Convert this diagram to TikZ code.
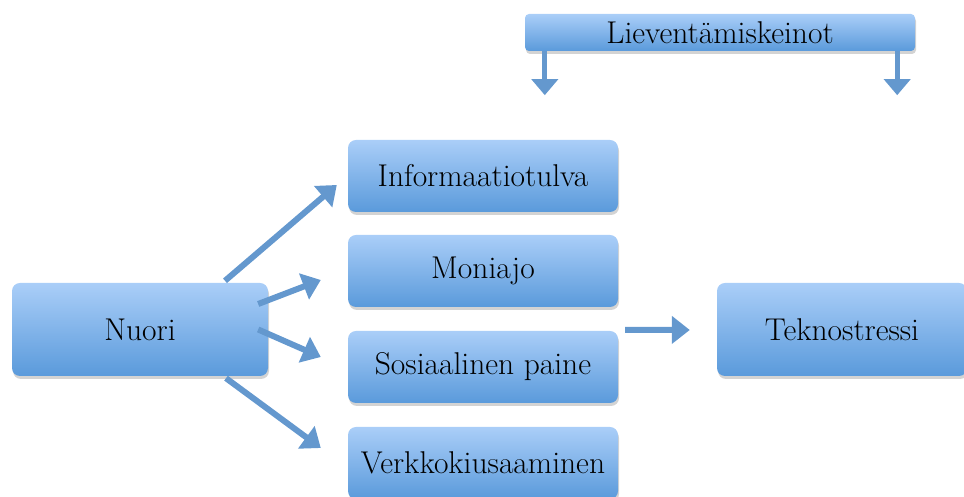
\documentclass[tikz,border=0pt]{standalone}
\usepackage{fontspec}
\usepackage{tikz}
\usetikzlibrary{arrows.meta, positioning, shadows}
\definecolor{boxtop}{HTML}{AACEF8}
\definecolor{boxbottom}{HTML}{5A9ADB}
\definecolor{arrowblue}{HTML}{6498CE}

\begin{document}
\begin{tikzpicture}[x=1pt, y=1pt,
    box/.style={rounded corners=8pt, top color=boxtop, bottom color=boxbottom,
                draw=none, minimum width=#1, inner sep=0pt,
                drop shadow={shadow xshift=1pt, shadow yshift=-3pt, opacity=0.35},
                font=\fontsize{31.5}{36}\selectfont},
    box/.default=270pt,
    arr/.style={-{Triangle[width=27pt, length=18pt]}, line width=6pt, arrowblue},
    smallarr/.style={-{Triangle[width=26pt, length=16pt]}, line width=5pt, arrowblue},
]
    \useasboundingbox (0,0) rectangle (964,497);

    \node[box=256pt, minimum height=93pt] (nuori) at (140,167.5) {Nuori};
    \node[box, minimum height=72pt] (info) at (483,321) {Informaatiotulva};
    \node[box, minimum height=72pt] (moni) at (483,226) {Moniajo};
    \node[box, minimum height=72pt] (sos) at (483,130) {Sosiaalinen paine};
    \node[box, minimum height=72pt] (verkko) at (483,34) {Verkkokiusaaminen};
    \node[box=250pt, minimum height=93pt] (tekno) at (842,167.5) {Teknostressi};
    \node[box=390pt, minimum height=37pt, rounded corners=4pt] (lieve) at (720,464.5) {Lieventämiskeinot};

    \coordinate (lend) at ([xshift=20pt, yshift=-44pt]lieve.south west);
    \coordinate (rend) at ([xshift=-18pt, yshift=-44pt]lieve.south east);

    \draw[smallarr] ([xshift=20pt]lieve.south west) -- (lend);
    \draw[smallarr] ([xshift=-18pt]lieve.south east) -- (rend);

    \draw[arr] ([xshift=85pt, yshift=2pt]nuori.north) -- ([xshift=-11pt, yshift=-9pt]info.west);
    \draw[arr] ([xshift=-10pt, yshift=25.5pt]nuori.east) -- ([xshift=-27pt, yshift=-9pt]moni.west);
    \draw[arr] ([xshift=-10pt]nuori.east) -- ([xshift=-27pt, yshift=10pt]sos.west);
    \draw[arr] ([xshift=86pt, yshift=-2pt]nuori.south) -- ([xshift=-27pt, yshift=15pt]verkko.west);
    \draw[arr] ([xshift=7pt, yshift=1pt]sos.north east) -- ([xshift=-27pt, yshift=-0.5pt]tekno.west);
\end{tikzpicture}
\end{document}
